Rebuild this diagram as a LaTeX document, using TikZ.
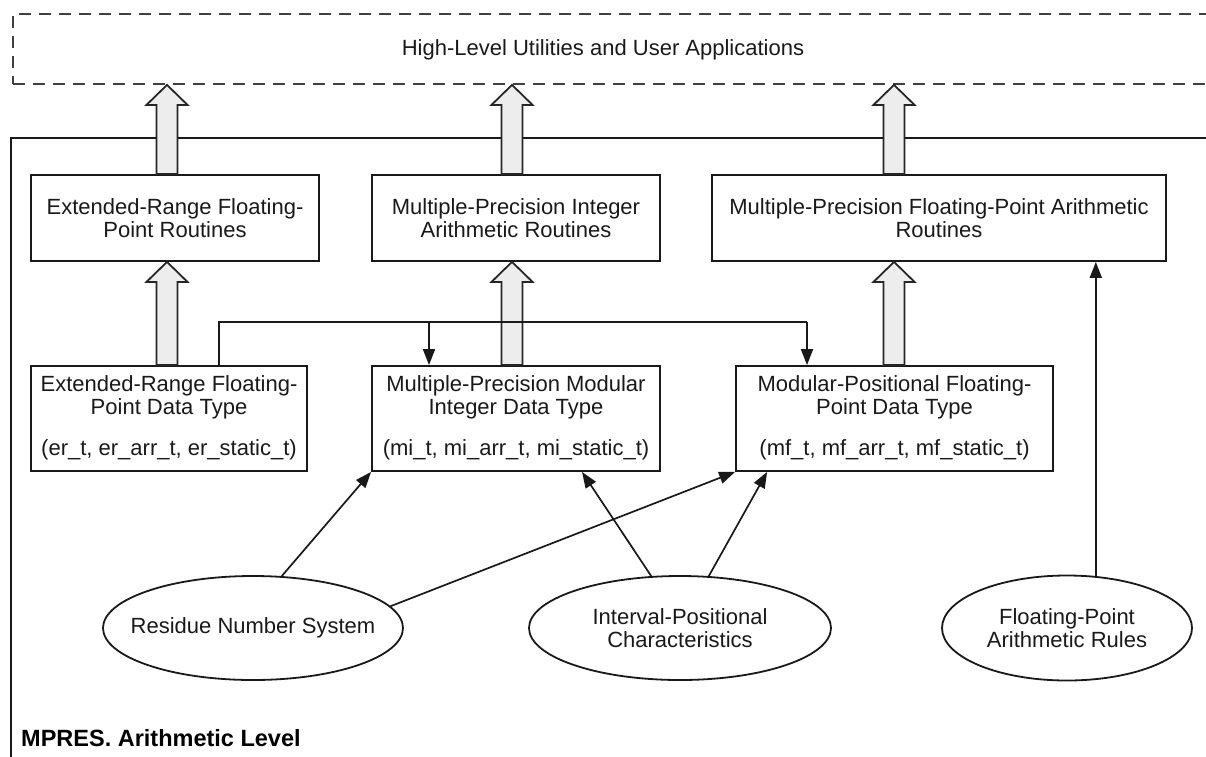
\documentclass[tikz,border=0pt]{standalone}
\usepackage{fontspec}
\setmainfont{Liberation Sans}
\usetikzlibrary{arrows.meta,shapes.geometric,calc}
\newcommand\blockarrow[3]{%
  \draw[barrow] let \p1=(#2), \p2=(#3) in
   ({#1pt-10.5pt},\y1) -- ({#1pt-10.5pt},{\y2-20pt}) -- ({#1pt-20.5pt},{\y2-20pt})
   -- (#1pt,\y2) -- ({#1pt+20.5pt},{\y2-20pt}) -- ({#1pt+10.5pt},{\y2-20pt})
   -- ({#1pt+10.5pt},\y1) -- cycle;}
\begin{document}
\begin{tikzpicture}[x=1pt,y=-1pt,
  box/.style={draw=black!90, line width=1.8pt, rectangle, inner sep=0pt},
  txt/.style={inner sep=0pt, align=center, text=black!90, font=\fontsize{22}{23.5}\selectfont},
  ell/.style={draw=black!90, line width=1.8pt, ellipse, inner sep=0pt},
  conn/.style={draw=black!90, line width=1.7pt},
  arr/.style={conn, -{Triangle[length=16pt,width=12pt]}},
  barrow/.style={draw=black!85, line width=1.8pt, fill=black!7, line join=miter},
]
\useasboundingbox (0,0) rectangle (1206,756);
\clip (0,0) rectangle (1206,756);

% top dashed area
\node[draw=black!75, line width=1.8pt, dash pattern=on 12pt off 8pt,
      minimum width=1204pt, minimum height=70pt, inner sep=0pt] (hl) at (615,49) {};
\node[txt] (hlt) at (603,50) {High-Level Utilities and User Applications};

% outer frame
\node[box, line width=2pt, minimum width=1240pt, minimum height=680pt, anchor=north west] (outer) at (10,137) {};
\node[inner sep=0pt, anchor=west, text=black,
      font=\fontsize{23.5}{26}\selectfont\bfseries] (lvl) at (21,738) {MPRES. Arithmetic Level};

% routine boxes
\node[box, minimum width=288pt, minimum height=86pt] (era) at (175,218) {};
\node[txt] (erat) at (era) {Extended-Range Floating-\\Point Routines};
\node[box, minimum width=288pt, minimum height=86pt] (mia) at (516,218) {};
\node[txt] (miat) at (mia) {Multiple-Precision Integer\\Arithmetic Routines};
\node[box, minimum width=454pt, minimum height=86pt] (mfa) at (939,218) {};
\node[txt] (mfat) at (mfa) {Multiple-Precision Floating-Point Arithmetic\\Routines};

% data type boxes
\node[box, minimum width=276pt, minimum height=105pt] (ert) at (169,418.5) {};
\node[txt] (ertt) at ($(ert.north)+(0,32)$) {Extended-Range Floating-\\Point Data Type};
\node[txt] (ertl) at ($(ert.north)+(0,84.5)$) {(er\_t, er\_arr\_t, er\_static\_t)};
\node[box, minimum width=288pt, minimum height=105pt] (mit) at (516,418.5) {};
\node[txt] (mitt) at ($(mit.north)+(0,32)$) {Multiple-Precision Modular\\Integer Data Type};
\node[txt] (mitl) at ($(mit.north)+(0,84.5)$) {(mi\_t, mi\_arr\_t, mi\_static\_t)};
\node[box, minimum width=317pt, minimum height=105pt] (mft) at (894.5,418.5) {};
\node[txt] (mftt) at ($(mft.north)+(0,32)$) {Modular-Positional Floating-\\Point Data Type};
\node[txt] (mftl) at ($(mft.north)+(0,84.5)$) {(mf\_t, mf\_arr\_t, mf\_static\_t)};

% ellipses
\node[ell, minimum width=300pt, minimum height=104pt] (rns) at (253,628) {};
\node[txt] (rnst) at (rns) {Residue Number System};
\node[ell, minimum width=302pt, minimum height=104pt] (ipc) at (680,628) {};
\node[txt] (ipct) at (ipc) {Interval-Positional\\Characteristics};
\node[ell, minimum width=250pt, minimum height=105pt] (fpr) at (1067,628) {};
\node[txt] (fprt) at (fpr) {Floating-Point\\Arithmetic Rules};

% block arrows
\blockarrow{167}{era.north}{hl.south}
\blockarrow{512}{mia.north}{hl.south}
\blockarrow{894}{mfa.north}{hl.south}
\blockarrow{167}{ert.north}{era.south}
\blockarrow{512}{mit.north}{mia.south}
\blockarrow{894}{mft.north}{mfa.south}

% bus from er data type
\coordinate (bA) at (219,322);
\coordinate (bB) at (807,322);
\coordinate (bC) at (429,322);
\draw[conn] (bA |- ert.north) -- (bA) -- (bB);
\draw[arr] (bB) -- (bB |- mft.north);
\draw[arr] (bC) -- (bC |- mit.north);

% ellipse connectors
\draw[arr] (rns.61) -- (mit.south west);
\draw[arr] (rns.9) -- (mft.south west);
\draw[arr] (ipc.119) -- ($(mit.south)+(66,0)$);
\draw[arr] (ipc.61) -- ($(mft.south west)+(32,0)$);
\draw[arr] (fpr.61) -- (fpr.61 |- mfa.south);
\end{tikzpicture}
\end{document}
